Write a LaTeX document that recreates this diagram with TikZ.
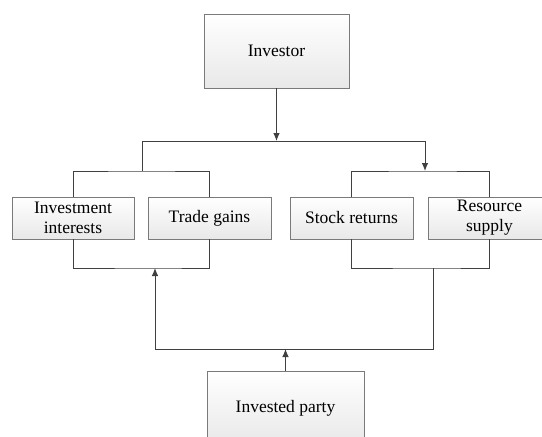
\documentclass[tikz,border=0pt]{standalone}
\usepackage{fontspec}
\setmainfont{Liberation Serif}
\usepackage{tikz}
\usetikzlibrary{shapes,arrows.meta,positioning}

\definecolor{linegray}{HTML}{404040}
\definecolor{boxgray}{HTML}{7A7A7A}

\tikzset{
    part/.style={rectangle,draw=boxgray,top color=white,bottom color=black!9,
        align=center,inner sep=0pt,font=\fontsize{17.5}{20}\selectfont},
    bigpart/.style={part,minimum width=145pt,minimum height=74pt},
    smallpart/.style={part,minimum width=123pt,minimum height=42pt},
    link/.style={draw=linegray,line width=0.9pt}
}

\begin{document}
\begin{tikzpicture}[x=1pt,y=-1pt,>={Latex[length=8pt,width=6.5pt]},line join=miter]
    \useasboundingbox (0,0) rectangle (542,437);

    % top and bottom parties
    \node (inv) [bigpart] at (276.5,51) {Investor};
    \node (ip) [bigpart,minimum width=157pt] at (285.5,408) {Invested party};

    % the four items
    \node (ii) [smallpart,minimum width=122pt] at (73,218) {Investment\\interests};
    \node (tg) [smallpart] at (209.5,218) {Trade gains};
    \node (sr) [smallpart] at (351.5,218) {Stock returns};
    \node (rs) [smallpart] at (489.5,218) {Resource\\supply};

    % junctions
    \coordinate (lt) at (142,141);
    \coordinate (rt) at (425,141);
    \coordinate (lg) at (142,171);
    \coordinate (rg) at (425,171);
    \coordinate (lb) at (155,268);
    \coordinate (rb) at (433,268);
    \coordinate (bl) at (155,349);

    % from the investor
    \draw[link] (lt) -- (rt);
    \draw[link,->] (inv.south) -- (inv.south |- lt);
    \draw[link] (lt) -- (lg);
    \draw[link,->] (rt) -- (rg);
    \draw[link] (ii.north) |- (lg) -| (tg.north);
    \draw[link] (sr.north) |- (rg) -| (rs.north);

    % from the invested party
    \draw[link] (ii.south) |- (lb) -| (tg.south);
    \draw[link] (sr.south) |- (rb) -| (rs.south);
    \draw[link] (rb) |- (bl);
    \draw[link,->] (bl) -- (lb);
    \draw[link,->] (ip.north) -- (ip.north |- bl);
\end{tikzpicture}
\end{document}
